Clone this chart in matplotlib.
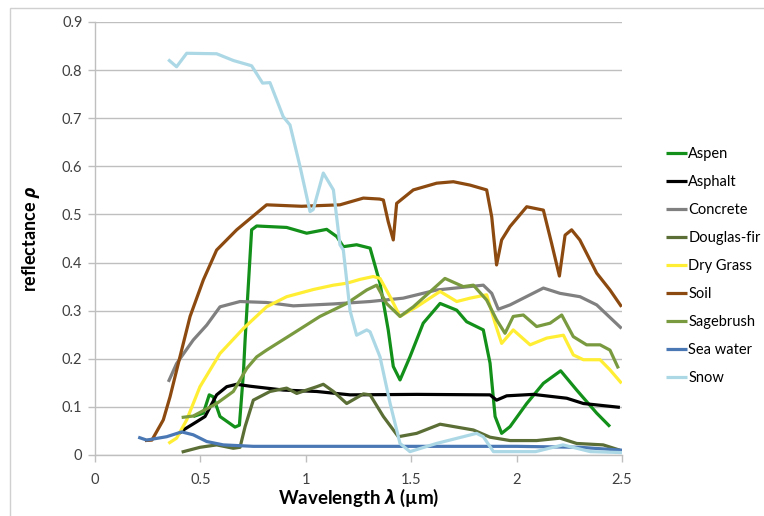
import matplotlib
matplotlib.use("Agg")
import matplotlib.pyplot as plt
from matplotlib.patches import Rectangle

# ---- data ----
aspen_x = [0.466,0.514,0.542,0.561,0.593,0.664,0.685,0.704,0.712,0.743,0.767,0.909,1.004,1.099,1.147,1.178,1.241,1.305,1.352,1.391,1.415,1.447,1.494,1.557,1.637,1.716,1.763,1.842,1.874,1.898,1.929,1.969,2.048,2.127,2.209,2.285,2.38,2.443]
aspen_y = [0.08,0.087,0.125,0.121,0.08,0.058,0.062,0.17,0.239,0.468,0.476,0.473,0.461,0.469,0.454,0.433,0.437,0.43,0.357,0.26,0.184,0.156,0.204,0.274,0.315,0.301,0.277,0.26,0.191,0.08,0.045,0.059,0.107,0.149,0.175,0.135,0.087,0.059]

asphalt_x = [0.40,0.419,0.482,0.522,0.577,0.625,0.672,0.735,0.893,1.052,1.21,1.526,1.874,1.905,1.953,2.079,2.238,2.317,2.49]
asphalt_y = [0.045,0.052,0.069,0.08,0.125,0.142,0.147,0.143,0.135,0.132,0.125,0.126,0.125,0.114,0.123,0.126,0.118,0.107,0.099]

concrete_x = [0.348,0.387,0.466,0.53,0.593,0.688,0.814,0.941,1.131,1.305,1.462,1.621,1.842,1.882,1.913,1.969,2.127,2.206,2.301,2.38,2.498]
concrete_y = [0.152,0.19,0.239,0.27,0.308,0.319,0.317,0.31,0.314,0.319,0.326,0.343,0.353,0.336,0.303,0.312,0.347,0.336,0.329,0.312,0.263]

dfir_x = [0.411,0.498,0.577,0.656,0.688,0.712,0.751,0.83,0.909,0.957,1.004,1.052,1.083,1.131,1.194,1.273,1.305,1.368,1.439,1.526,1.637,1.795,1.874,1.969,2.095,2.206,2.285,2.411,2.49]
dfir_y = [0.006,0.016,0.021,0.014,0.016,0.059,0.114,0.132,0.139,0.128,0.135,0.142,0.147,0.132,0.107,0.127,0.125,0.08,0.038,0.045,0.064,0.052,0.037,0.03,0.03,0.035,0.024,0.021,0.01]

grass_x = [0.348,0.387,0.435,0.498,0.593,0.704,0.814,0.909,1.036,1.131,1.194,1.257,1.32,1.352,1.40,1.447,1.526,1.637,1.716,1.779,1.858,1.898,1.929,1.984,2.064,2.143,2.222,2.269,2.317,2.396,2.443,2.498]
grass_y = [0.024,0.035,0.073,0.142,0.211,0.263,0.308,0.329,0.344,0.353,0.357,0.365,0.371,0.367,0.329,0.288,0.308,0.34,0.319,0.326,0.333,0.274,0.232,0.26,0.229,0.243,0.249,0.208,0.198,0.198,0.177,0.149]

soil_x = [0.237,0.27,0.324,0.356,0.403,0.451,0.514,0.577,0.672,0.814,0.98,1.162,1.273,1.35,1.368,1.391,1.415,1.431,1.51,1.621,1.70,1.779,1.858,1.882,1.905,1.929,1.969,2.048,2.127,2.166,2.203,2.23,2.261,2.30,2.38,2.443,2.498]
soil_y = [0.03,0.031,0.073,0.121,0.204,0.288,0.364,0.426,0.468,0.52,0.517,0.52,0.534,0.532,0.53,0.485,0.447,0.523,0.551,0.565,0.568,0.561,0.551,0.495,0.395,0.447,0.475,0.516,0.509,0.44,0.372,0.457,0.468,0.447,0.378,0.343,0.308]

sage_x = [0.411,0.466,0.577,0.656,0.72,0.767,0.814,0.941,1.067,1.194,1.289,1.336,1.383,1.447,1.51,1.66,1.747,1.795,1.858,1.905,1.945,1.984,2.032,2.095,2.159,2.214,2.269,2.332,2.396,2.443,2.483]
sage_y = [0.078,0.081,0.107,0.132,0.18,0.204,0.218,0.253,0.288,0.315,0.343,0.353,0.315,0.288,0.308,0.367,0.35,0.353,0.322,0.281,0.253,0.288,0.291,0.267,0.274,0.291,0.246,0.229,0.229,0.218,0.18]

sea_x = [0.205,0.245,0.34,0.411,0.466,0.53,0.609,0.751,1.0,1.5,2.0,2.3,2.5]
sea_y = [0.037,0.031,0.038,0.048,0.042,0.028,0.021,0.018,0.018,0.018,0.018,0.016,0.01]

snow_x = [0.347,0.387,0.435,0.577,0.656,0.743,0.795,0.830,0.893,0.925,0.973,1.02,1.035,1.083,1.131,1.162,1.178,1.21,1.241,1.289,1.305,1.352,1.40,1.447,1.494,1.62,1.81,1.842,1.89,2.09,2.22,2.35,2.5]
snow_y = [0.822,0.807,0.835,0.834,0.820,0.809,0.773,0.774,0.703,0.686,0.599,0.506,0.51,0.586,0.551,0.437,0.426,0.30,0.249,0.26,0.256,0.204,0.107,0.024,0.007,0.024,0.045,0.038,0.007,0.007,0.021,0.007,0.005]

labels = ["Aspen", "Asphalt", "Concrete", "Douglas-fir", "Dry Grass", "Soil", "Sagebrush", "Sea water", "Snow"]
series = [(aspen_x, aspen_y), (asphalt_x, asphalt_y), (concrete_x, concrete_y), (dfir_x, dfir_y),
          (grass_x, grass_y), (soil_x, soil_y), (sage_x, sage_y), (sea_x, sea_y), (snow_x, snow_y)]
colors = ["#12901a", "#000000", "#808080", "#5b6e35", "#ffee33", "#8c4a10", "#7a9a40", "#4a78b5", "#acd8e6"]

x_ticks = [0, 0.5, 1, 1.5, 2, 2.5]
x_ticklabels = ["0", "0.5", "1", "1.5", "2", "2.5"]
y_ticks = [0, 0.1, 0.2, 0.3, 0.4, 0.5, 0.6, 0.7, 0.8, 0.9]
y_ticklabels = ["0", "0.1", "0.2", "0.3", "0.4", "0.5", "0.6", "0.7", "0.8", "0.9"]

plt.rcParams['font.family'] = ['Lato', 'DejaVu Sans']
plt.rcParams['mathtext.fontset'] = 'custom'
plt.rcParams['mathtext.rm'] = 'Open Sans:bold'
plt.rcParams['mathtext.it'] = 'Open Sans:italic:bold'

fig = plt.figure(figsize=(7.64, 5.16), dpi=100)
ax = fig.add_axes([95/764, 1-455/516, (622-95)/764, (455-22)/516])

# outer chart frame
fig.patches.append(Rectangle((10/764, -0.02), 1.05, 1.02 - 8/516, transform=fig.transFigure,
                             fill=False, edgecolor="#d0d0d0", linewidth=1.0))

for (xs, ys), lab, c in zip(series, labels, colors):
    ax.plot(xs, ys, color=c, lw=2.3, label=lab, solid_capstyle='butt')

ax.set_xlim(0, 2.5)
ax.set_ylim(0, 0.9)
ax.set_xticks(x_ticks)
ax.set_xticklabels(x_ticklabels)
ax.set_yticks(y_ticks)
ax.set_yticklabels(y_ticklabels)
ax.yaxis.grid(True, color="#bfbfbf", lw=1.0)
ax.set_axisbelow(True)
for s in ["top", "right"]:
    ax.spines[s].set_visible(False)
for s in ["left", "bottom"]:
    ax.spines[s].set_color("#bfbfbf")
    ax.spines[s].set_linewidth(1.0)
ax.tick_params(axis='both', colors="#bfbfbf", labelcolor="#404040", labelsize=10.5, length=5, width=1.0)
ax.tick_params(axis='x', pad=8)
ax.tick_params(axis='y', pad=4)

ax.set_xlabel("Wavelength $\\lambda$ (µm)", fontsize=13.5, fontweight='bold', labelpad=0)
ax.set_ylabel("reflectance $\\rho$", fontsize=13, fontweight='bold', labelpad=14)

fig.legend(loc="upper left", bbox_to_anchor=(660/764, 1-141/516), frameon=False,
           fontsize=10.5, handlelength=1.45, handletextpad=0.1, labelspacing=0.96, borderaxespad=0)

fig.savefig("out.png", dpi=100)
